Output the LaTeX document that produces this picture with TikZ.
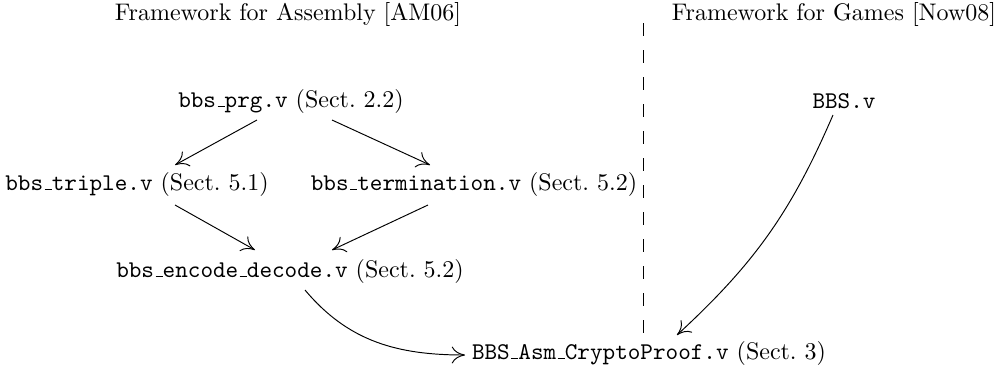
\documentclass[tikz,border=0pt]{standalone}
\usetikzlibrary{arrows.meta}
% classic low underscore rule used inside file names
\newcommand\us{\leavevmode\kern.06em\vbox{\hrule width.3em}}
\newcommand\fn[1]{\texttt{#1}}
\begin{document}
\begin{tikzpicture}[x=0.41667pt,y=-0.41667pt,
  file/.style={inner sep=0pt,outer sep=0pt},
  head/.style={inner sep=0pt},
  dep/.style={-{To[length=5.5pt,width=7pt]},line width=0.4pt},
  divider/.style={line width=0.4pt,dash pattern=on 5.5pt off 5.75pt}]
\useasboundingbox (0,0) rectangle (1008,371);

% column headings
\node[head] (hasm) at (288,14) {Framework for Assembly [AM06]};
\node[head] (hgam) at (834,14) {Framework for Games [Now08]};

% separator between the two frameworks
\coordinate (dtop) at (643,23);
\coordinate (dbot) at (643,338);
\draw[divider] (dtop) -- (dbot);

% files
\node[file] (prg)    at (291,101) {\fn{bbs\us prg.v} (Sect.~2.2)};
\node[file] (bbs)    at (844,101) {\fn{BBS.v}};
\node[file] (triple) at (137,184) {\fn{bbs\us triple.v} (Sect.~5.1)};
\node[file] (term)   at (474,184) {\fn{bbs\us termination.v} (Sect.~5.2)};
\node[file] (enc)    at (290,271) {\fn{bbs\us encode\us decode.v} (Sect.~5.2)};
\node[file] (crypto) at (649,353) {\fn{BBS\us Asm\us CryptoProof.v} (Sect.~3)};

% dependencies
\draw[dep] ([shift={(-34,19)}]prg.center) -- ([shift={(38,-19)}]triple.center);
\draw[dep] ([shift={(41,19)}]prg.center) -- ([shift={(-44,-19)}]term.center);
\draw[dep] ([shift={(38,21)}]triple.center) -- ([shift={(-35,-21)}]enc.center);
\draw[dep] ([shift={(-46,21)}]term.center) -- ([shift={(42,-21)}]enc.center);
\draw[dep] ([shift={(15,19)}]enc.center) to[out=-50,in=180] ([shift={(-7,2)}]crypto.west);
\draw[dep] ([shift={(-11,14)}]bbs.center) to[bend left=12] ([shift={(28,-18)}]crypto.center);
\end{tikzpicture}
\end{document}
